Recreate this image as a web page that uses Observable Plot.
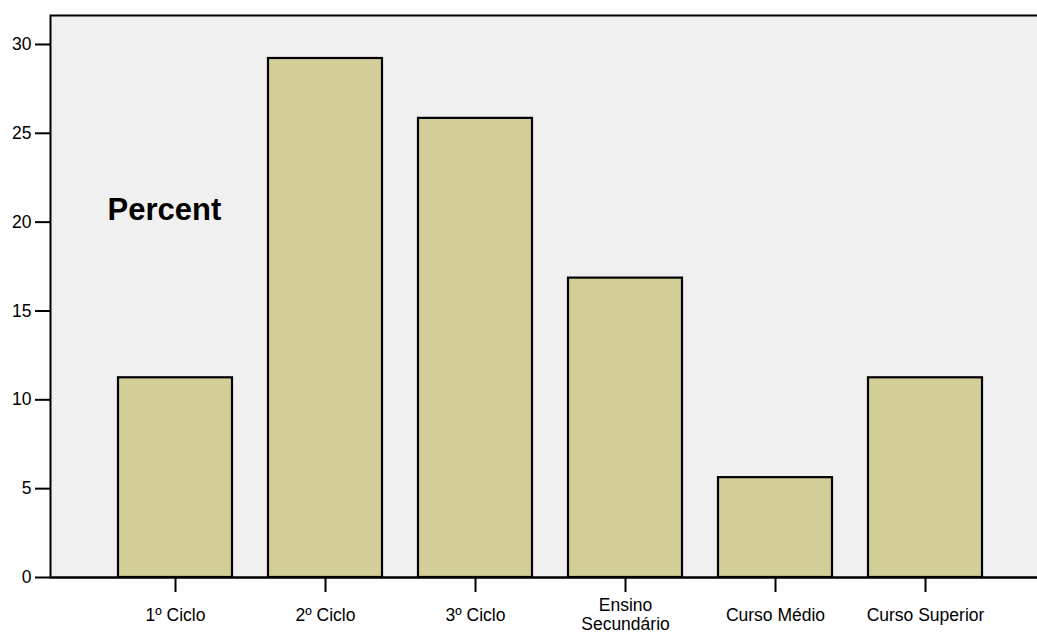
<!DOCTYPE html>
<html>
<head>
<meta charset="utf-8">
<script src="https://cdn.jsdelivr.net/npm/d3@7"></script>
<script src="https://cdn.jsdelivr.net/npm/@observablehq/plot@0.6"></script>
<style>
  html, body { margin: 0; padding: 0; background: #ffffff; }
  svg { display: block; }
</style>
</head>
<body>
<div id="chart"></div>
<script>
const categories = ["1º Ciclo", "2º Ciclo", "3º Ciclo", "Ensino\nSecundário", "Curso Médio", "Curso Superior"];
const percents = [11.24, 29.21, 25.84, 16.85, 5.62, 11.24];
const yTicks = [0, 5, 10, 15, 20, 25, 30];
const yLabel = ["Percent"];

const data = categories.map((c, i) => ({category: c, percent: percents[i]}));

const chart = Plot.plot({
  width: 1037,
  height: 635,
  marginTop: 15,
  marginBottom: 58,
  marginLeft: 50,
  marginRight: -4,
  style: {fontFamily: "Liberation Sans, Arial, sans-serif", fontSize: "17.5px", color: "black", background: "#ffffff"},
  x: {domain: categories, range: [100, 1000], paddingInner: 0.24, paddingOuter: 0.12, label: null},
  y: {domain: [0, 31.63], label: null},
  marks: [
    Plot.frame({fill: "#f0f0f0", stroke: "black", strokeWidth: 2}),
    Plot.barY(data, {x: "category", y: "percent", fill: "#d3ce98", stroke: "black", strokeWidth: 2.2}),
    Plot.ruleY([0], {stroke: "black", strokeWidth: 2}),
    Plot.axisY({ticks: yTicks, tickSize: 15, tickPadding: 4, strokeWidth: 2, fontSize: 17.5, label: null, tickFormat: d => String(d)}),
    Plot.axisX({tickSize: 15, tickPadding: 22, strokeWidth: 2, fontSize: 17.5, lineAnchor: "middle", lineHeight: 1.08, label: null}),
    Plot.text(yLabel, {frameAnchor: "top-left", dx: 57, dy: 182, fontSize: 31, fontWeight: "bold", textAnchor: "start", text: d => d, fill: "black"})
  ]
});
document.getElementById("chart").append(chart);
</script>
</body>
</html>
